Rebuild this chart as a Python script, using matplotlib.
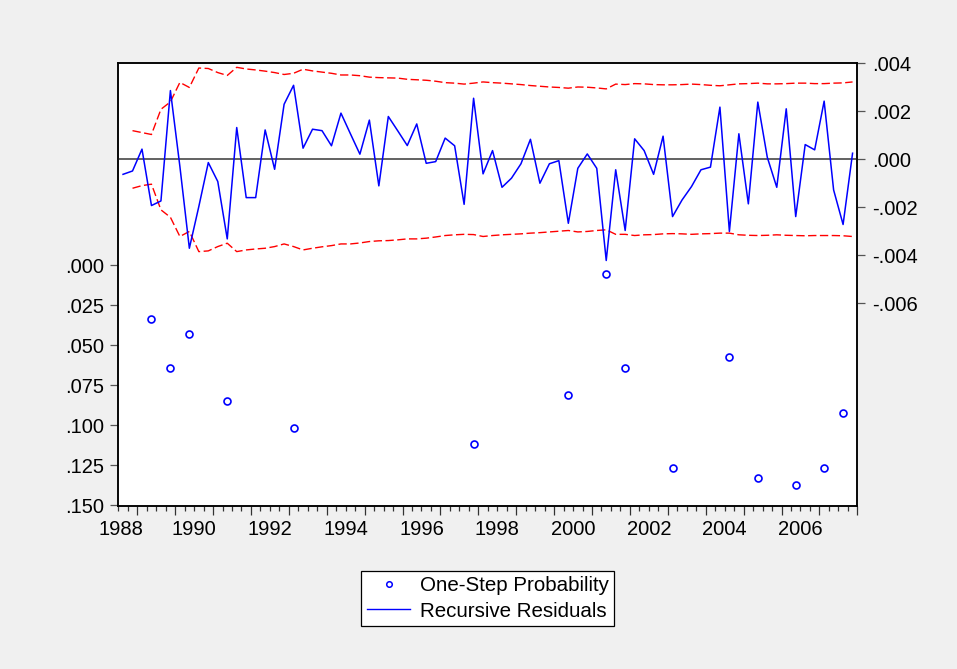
import numpy as np
import matplotlib
matplotlib.use("Agg")
import matplotlib.pyplot as plt
from matplotlib.lines import Line2D
from matplotlib.ticker import FixedLocator, FuncFormatter, NullFormatter
import matplotlib.transforms as mtransforms

plt.rcParams['font.family'] = ['Liberation Sans', 'DejaVu Sans']

# ---- data (quarterly, first observation 1988Q3) ----
start_year = 1988
start_quarter = 3
recursive_residuals = [
    -0.00063, -0.00049, 0.00042, -0.00193, -0.00174, 0.00286, -0.00030, -0.00371,
    -0.00197, -0.00014, -0.00093, -0.00332, 0.00132, -0.00160, -0.00160, 0.00122,
    -0.00042, 0.00229, 0.00308, 0.00046, 0.00125, 0.00119, 0.00056, 0.00192,
    0.00106, 0.00021, 0.00163, -0.00111, 0.00178, 0.00118, 0.00057, 0.00147,
    -0.00017, -0.00010, 0.00088, 0.00056, -0.00188, 0.00254, -0.00061, 0.00036,
    -0.00117, -0.00079, -0.00019, 0.00083, -0.00100, -0.00019, -0.00006, -0.00267,
    -0.00038, 0.00022, -0.00038, -0.00422, -0.00044, -0.00297, 0.00085, 0.00036,
    -0.00063, 0.00096, -0.00239, -0.00170, -0.00114, -0.00044, -0.00033, 0.00217,
    -0.00301, 0.00106, -0.00186, 0.00238, 0.00008, -0.00117, 0.00210, -0.00239,
    0.00061, 0.00039, 0.00242, -0.00128, -0.00272, 0.00025,
]
# bands start one quarter after the residual series (1988Q4)
upper_band = [
    0.00119, 0.00111, 0.00103, 0.00208, 0.00239, 0.00320, 0.00299, 0.00380,
    0.00378, 0.00361, 0.00349, 0.00383, 0.00376, 0.00372, 0.00367, 0.00361,
    0.00353, 0.00358, 0.00375, 0.00368, 0.00363, 0.00358, 0.00351, 0.00351,
    0.00348, 0.00342, 0.00340, 0.00339, 0.00338, 0.00333, 0.00331, 0.00329,
    0.00325, 0.00319, 0.00317, 0.00313, 0.00317, 0.00322, 0.00319, 0.00317,
    0.00314, 0.00311, 0.00307, 0.00304, 0.00301, 0.00299, 0.00296, 0.00301,
    0.00300, 0.00297, 0.00293, 0.00313, 0.00311, 0.00315, 0.00314, 0.00311,
    0.00310, 0.00310, 0.00311, 0.00313, 0.00311, 0.00308, 0.00306, 0.00310,
    0.00314, 0.00315, 0.00317, 0.00314, 0.00314, 0.00315, 0.00317, 0.00317,
    0.00315, 0.00315, 0.00317, 0.00318, 0.00322,
]
lower_band = [
    -0.00121, -0.00110, -0.00104, -0.00211, -0.00242, -0.00322, -0.00301, -0.00385,
    -0.00382, -0.00364, -0.00350, -0.00385, -0.00378, -0.00374, -0.00371, -0.00364,
    -0.00353, -0.00364, -0.00378, -0.00371, -0.00365, -0.00360, -0.00353, -0.00353,
    -0.00349, -0.00343, -0.00340, -0.00339, -0.00336, -0.00332, -0.00332, -0.00329,
    -0.00324, -0.00318, -0.00315, -0.00313, -0.00314, -0.00322, -0.00318, -0.00315,
    -0.00313, -0.00311, -0.00308, -0.00306, -0.00303, -0.00300, -0.00297, -0.00303,
    -0.00301, -0.00297, -0.00294, -0.00313, -0.00313, -0.00318, -0.00315, -0.00314,
    -0.00311, -0.00310, -0.00311, -0.00313, -0.00311, -0.00310, -0.00308, -0.00308,
    -0.00315, -0.00317, -0.00318, -0.00317, -0.00315, -0.00317, -0.00318, -0.00319,
    -0.00318, -0.00318, -0.00318, -0.00319, -0.00322,
]
# one-step probabilities (only those below 0.15 are shown), by quarter index
prob_index = [3, 5, 7, 11, 18, 37, 47, 51, 53, 58, 64, 67, 71, 74, 76]
prob_values = [0.0336, 0.0644, 0.0429, 0.0848, 0.1021, 0.1120, 0.0810, 0.0056,
               0.0644, 0.1270, 0.0577, 0.1333, 0.1377, 0.1270, 0.0923]

year_labels = ['1988', '1990', '1992', '1994', '1996', '1998', '2000', '2002', '2004', '2006']
prob_ticks = [0.000, 0.025, 0.050, 0.075, 0.100, 0.125, 0.150]
resid_ticks = [0.004, 0.002, 0.000, -0.002, -0.004, -0.006]

# ---- positions (quarter centres) ----
n = len(recursive_residuals)
t0 = start_year + (start_quarter - 1) / 4.0
x = t0 + (np.arange(n) + 0.5) / 4.0
x_band = x[1:]
x_prob = x[np.array(prob_index)]

# ---- figure ----
W, H = 957, 669
fig = plt.figure(figsize=(W / 100, H / 100), dpi=100, facecolor='#F0F0F0')
left, right, top, bottom = 118.3, 857.3, 62.5, 506.0
ax = fig.add_axes([left / W, 1 - bottom / H, (right - left) / W, (bottom - top) / H])
ax.set_facecolor('white')
ax2 = ax.twinx()
ax2.patch.set_visible(False)

def dotfmt(v, pos=None):
    s = f"{v:.3f}"
    if s.startswith('-0'):
        s = '-' + s[2:]
    elif s.startswith('0'):
        s = s[1:]
    if s == '-.000':
        s = '.000'
    return s

FS = 14.5

# probability (left axis, inverted)
ax.plot(x_prob, prob_values, linestyle='none', marker='o', markersize=5,
        markerfacecolor='none', markeredgecolor='#0000FF', markeredgewidth=1.2, zorder=3)
ax.set_ylim(0.1506, -0.1266)
ax.yaxis.set_major_locator(FixedLocator(prob_ticks))
ax.yaxis.set_major_formatter(FuncFormatter(dotfmt))

# residuals (right axis)
ax2.axhline(0.0, color='#555555', lw=1.3, zorder=1)
ax2.plot(x_band, upper_band, color='#FF0000', lw=1.0, dashes=(6, 2.5), zorder=2)
ax2.plot(x_band, lower_band, color='#FF0000', lw=1.0, dashes=(6, 2.5), zorder=2)
ax2.plot(x, recursive_residuals, color='#0000FF', lw=1.1, zorder=3)
ax2.set_ylim(-0.01445, 0.00403)
ax2.yaxis.set_major_locator(FixedLocator(resid_ticks))
ax2.yaxis.set_major_formatter(FuncFormatter(dotfmt))

# x axis
ax.set_xlim(t0, start_year + 20)
years = np.arange(start_year + 1, start_year + 21)
quarters = np.arange(t0, start_year + 20 + 0.001, 0.25)
ax.xaxis.set_major_locator(FixedLocator(years))
ax.xaxis.set_minor_locator(FixedLocator(quarters))
ax.xaxis.set_major_formatter(NullFormatter())
ax.xaxis.set_minor_formatter(NullFormatter())
trans = mtransforms.blended_transform_factory(ax.transData, ax.transAxes)
for lab in year_labels:
    yr = int(lab)
    xpos = yr + 0.5 if yr + 0.5 > t0 + 0.05 else t0 + 0.07
    ax.text(xpos, -0.0535, lab, transform=trans, ha='center', va='center', fontsize=FS)

for a in (ax, ax2):
    for s in a.spines.values():
        s.set_color('black')
        s.set_linewidth(1.1)

ax.tick_params(axis='y', which='major', direction='out', length=6, width=0.9,
               color='#555555', labelsize=FS, pad=4.5)
ax2.tick_params(axis='y', which='major', direction='out', length=6, width=0.9,
                color='#555555', labelsize=FS, pad=4.5)
ax.tick_params(axis='x', which='major', direction='out', length=6.5, width=0.9, color='#333333')
ax.tick_params(axis='x', which='minor', direction='out', length=3.5, width=0.9, color='#333333')

# legend
handles = [
    Line2D([], [], linestyle='none', marker='o', markersize=4, markerfacecolor='none',
           markeredgecolor='#0000FF', markeredgewidth=1.1),
    Line2D([], [], color='#0000FF', lw=1.0),
]
leg = fig.legend(handles, ['One-Step Probability', 'Recursive Residuals'],
                 loc='upper center', bbox_to_anchor=(487.85 / W, 1 - 570.7 / H),
                 prop={'size': 14.8}, frameon=True, fancybox=False, edgecolor='black',
                 facecolor='white', framealpha=1, handlelength=2.1, handletextpad=0.45,
                 borderpad=0.28, labelspacing=0.3, borderaxespad=0)
leg.get_frame().set_linewidth(0.9)

fig.savefig('out.png', dpi=100, facecolor=fig.get_facecolor())
